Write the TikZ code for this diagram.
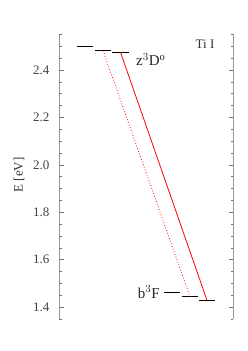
\documentclass[tikz,border=0pt]{standalone}
\usepackage{fontspec}
\setmainfont{Liberation Serif}
\begin{document}
\begin{tikzpicture}[x=1pt,y=-1pt,
  axisline/.style={draw=black!40, line width=0.9pt},
  tickmark/.style={draw=black!55, line width=0.5pt},
  ticklabel/.style={text=black!75, font=\fontsize{13}{15}\selectfont, anchor=east, inner sep=0pt},
  level/.style={draw=black, line width=1.4pt},
  trans/.style={draw=red, line width=0.8pt},
  transdot/.style={draw=red, line width=0.8pt, dotted},
  lbl/.style={text=black!85, font=\fontsize{15}{17}\selectfont, inner sep=0pt}]
\useasboundingbox (0,0) rectangle (248,351);
% axes
\draw[axisline] (59,34.45) -- (59,318.85);
\draw[axisline] (233,34.45) -- (233,318.85);
\foreach \k in {0,...,24} {
  \pgfmathsetmacro{\yy}{34.45+\k*11.85}
  \draw[tickmark] (59,\yy) -- (61.5,\yy);
  \draw[tickmark] (233,\yy) -- (230.5,\yy);
}
\foreach \v/\k in {2.4/0,2.2/1,2.0/2,1.8/3,1.6/4,1.4/5} {
  \pgfmathsetmacro{\yy}{70+\k*47.4}
  \draw[tickmark] (59,\yy) -- (63.5,\yy);
  \draw[tickmark] (233,\yy) -- (228.5,\yy);
  \node[ticklabel] (t\k) at (49.5,\yy) {\v};
}
\node[text=black!80, font=\fontsize{13}{15}\selectfont, rotate=90] (ylab) at (19,175) {E [eV]};
\node[text=black!80, font=\fontsize{13}{15}\selectfont] (ion) at (205,44) {Ti I};
% upper levels
\draw[level] (77,46.7) -- coordinate (u1) (93,46.7);
\draw[level] (95,50.7) -- coordinate (u2) (111,50.7);
\draw[level] (112,52.3) -- coordinate (u3) (129,52.3);
% lower levels
\draw[level] (164,292.7) -- coordinate (l1) (180,292.7);
\draw[level] (182,296.7) -- coordinate (l2) (198,296.7);
\draw[level] (199,300.3) -- coordinate (l3) (215,300.3);
% transitions
\draw[transdot] (u2) -- (l2);
\draw[trans] (u3) -- (l3);
% labels
\node[lbl, anchor=base west] (zlab) at (136,65.5) {z$^{3}$D$^{\mathrm{o}}$};
\node[lbl, anchor=east] (blab) at (160,292) {b$^{3}$F};
\end{tikzpicture}
\end{document}
